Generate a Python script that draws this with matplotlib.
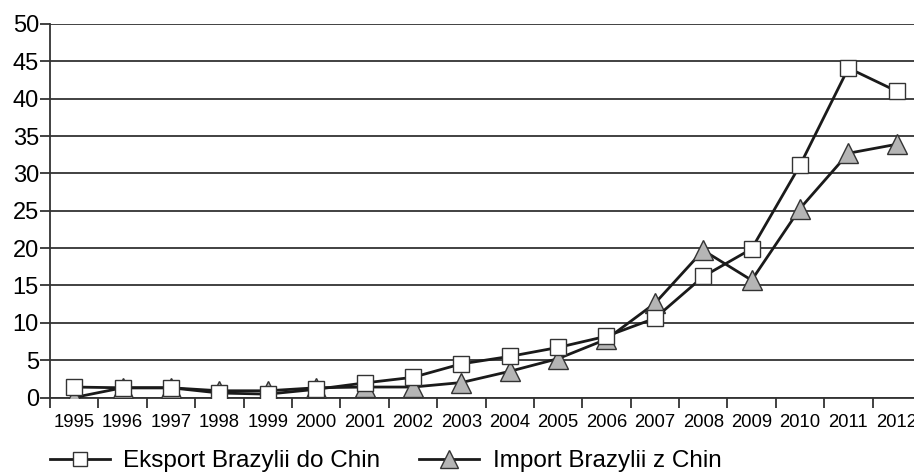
import matplotlib.pyplot as plt

plt.rcParams['font.family'] = ['Liberation Sans', 'DejaVu Sans']

years = ["1995", "1996", "1997", "1998", "1999", "2000", "2001", "2002", "2003",
         "2004", "2005", "2006", "2007", "2008", "2009", "2010", "2011", "2012"]
eksport = [1.4, 1.3, 1.3, 0.6, 0.45, 1.1, 1.95, 2.7, 4.5,
           5.5, 6.7, 8.2, 10.6, 16.2, 19.9, 31.1, 44.1, 41.0]
import_ = [0.0, 1.3, 1.3, 0.9, 0.9, 1.3, 1.4, 1.4, 2.0,
           3.5, 5.2, 7.8, 12.6, 19.7, 15.7, 25.3, 32.7, 33.9]

fig = plt.figure(figsize=(9.14, 4.75), dpi=100)
ax = fig.add_axes([50 / 914, 1 - 397.5 / 475, 871 / 914, 373.5 / 475])

x = list(range(len(years)))

ax.set_axisbelow(True)
ax.grid(axis='y', color='#333333', linewidth=1.3)
l2, = ax.plot(x, import_, color='#1a1a1a', linewidth=2, marker='^', markersize=15,
              markerfacecolor='#b5b5b5', markeredgecolor='#333333', markeredgewidth=1, zorder=3)
l1, = ax.plot(x, eksport, color='#1a1a1a', linewidth=2, marker='s', markersize=12,
              markerfacecolor='white', markeredgecolor='#333333', markeredgewidth=1, zorder=4)

ax.set_xlim(-0.5, 17.5)
ax.set_ylim(0, 50)
ax.set_yticks(range(0, 51, 5))
ax.tick_params(axis='y', labelsize=17, length=7, width=1.3, color='#333333', pad=1)

ax.set_xticks([i + 0.5 for i in range(-1, 18)], minor=False)
ax.set_xticklabels([])
ax.set_xticks(x, minor=True)
ax.set_xticklabels(years, minor=True)
ax.tick_params(axis='x', which='major', length=7, width=1.3, color='#333333', direction='out')
ax.tick_params(axis='x', which='minor', length=0, labelsize=13.3, pad=12)

for side in ['top', 'right']:
    ax.spines[side].set_visible(False)
for side in ['left', 'bottom']:
    ax.spines[side].set_color('#333333')
    ax.spines[side].set_linewidth(1.3)

fig.legend([l1, l2], ["Eksport Brazylii do Chin", "Import Brazylii z Chin"],
           loc='center left', bbox_to_anchor=(0.031, 1 - 461 / 475), ncol=2, frameon=False,
           fontsize=17.5, handlelength=2.47, columnspacing=1.6, handletextpad=0.54,
           markerscale=0.85)

fig.savefig("out.png", dpi=100)
